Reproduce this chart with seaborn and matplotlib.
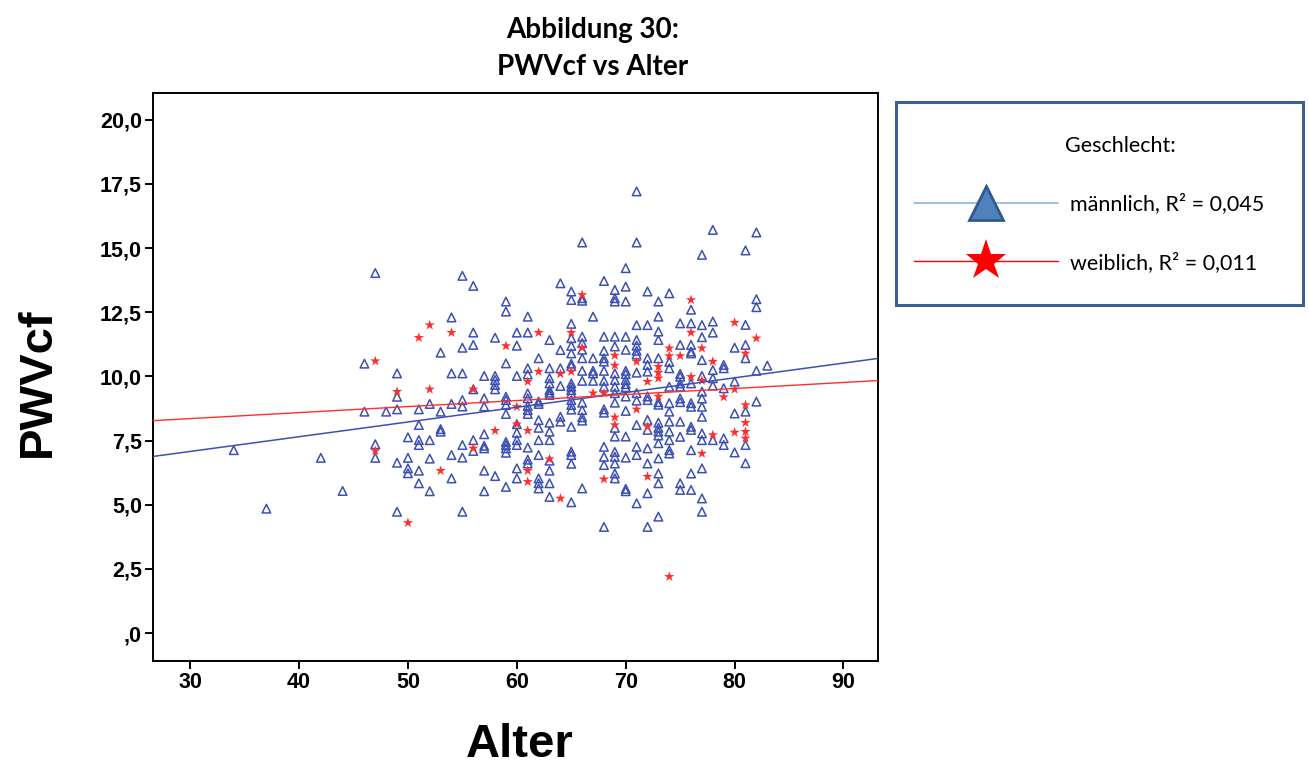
import matplotlib
matplotlib.use("Agg")
import matplotlib.pyplot as plt
import pandas as pd
import seaborn as sns
from matplotlib.lines import Line2D
from matplotlib.patches import Rectangle
from matplotlib.ticker import FuncFormatter

# values: one age, several PWVcf values
male_alter = [34, 37, 42, 44, 46, 47, 48, 49, 50, 51, 52, 53, 54, 55, 56, 57, 58, 59,
              60, 61, 62, 63, 64, 65, 66, 67, 68, 69, 70, 71, 72, 73, 74, 75, 76, 77,
              78, 79, 80, 81, 82, 83]
male_pwv = [
    [7.13],
    [4.85],
    [6.83],
    [5.54],
    [10.5, 8.63],
    [14.03, 7.36, 6.83],
    [8.63],
    [10.12, 9.21, 8.72, 6.64, 4.73],
    [7.63, 6.83, 6.42, 6.23],
    [8.72, 8.11, 7.52, 7.33, 6.33, 5.84],
    [8.93, 7.52, 6.8, 5.53],
    [10.93, 8.63, 7.95, 7.85],
    [12.3, 10.12, 8.93, 6.94, 6.03],
    [13.92, 11.12, 10.12, 9.08, 8.83, 7.33, 6.84, 4.73],
    [13.53, 11.71, 11.23, 9.5, 7.52, 7.1],
    [10.02, 9.15, 8.83, 7.75, 7.3, 7.2, 6.33, 5.53],
    [11.51, 10.02, 9.86, 9.67, 9.5, 6.12],
    [12.92, 12.53, 10.51, 9.21, 9.08, 8.89, 8.54, 7.45, 7.33, 7.2, 7.03, 5.7],
    [11.71, 11.2, 10.02, 8.14, 7.81, 7.52, 7.33, 6.42, 6.03],
    [12.33, 11.71, 10.32, 10.08, 9.34, 9.15, 8.85, 8.69, 8.54, 7.23, 6.76, 6.61],
    [10.71, 9.02, 8.93, 8.3, 8.0, 7.52, 6.94, 6.03, 5.84, 5.64],
    [11.42, 10.32, 9.93, 9.73, 9.47, 9.37, 9.28, 8.2, 7.85, 7.52, 6.72, 6.33, 5.84, 5.31],
    [13.63, 11.03, 10.32, 9.63, 8.43, 8.24],
    [13.31, 12.98, 12.05, 11.49, 11.19, 10.9, 10.5, 10.4, 9.73, 9.6, 9.47, 9.34, 9.08,
     8.89, 8.71, 8.04, 7.07, 6.94, 6.6, 5.1],
    [15.22, 13.05, 12.95, 11.55, 11.3, 11.04, 10.71, 10.22, 9.83, 8.98, 8.69, 8.41, 8.28, 5.64],
    [12.33, 10.71, 10.22, 10.12, 9.83],
    [13.72, 11.55, 11.0, 10.71, 10.58, 10.22, 9.83, 9.6, 8.72, 8.59, 7.26, 6.87, 6.55, 4.14],
    [13.37, 13.05, 12.92, 11.55, 11.17, 10.12, 9.86, 9.6, 9.35, 8.98, 8.0, 7.66, 7.06,
     6.87, 6.61, 6.22, 6.03],
    [14.22, 13.5, 12.92, 11.55, 11.04, 10.22, 10.09, 9.86, 9.7, 9.58, 9.22, 8.66, 7.66,
     6.84, 5.62, 5.53],
    [17.21, 15.22, 12.0, 11.42, 11.2, 11.0, 10.85, 10.15, 9.35, 9.06, 8.11, 7.26, 6.94, 5.06],
    [13.31, 12.0, 10.71, 10.45, 10.19, 9.22, 9.08, 8.31, 7.92, 7.2, 6.61, 5.45, 4.14],
    [12.92, 12.33, 11.75, 11.42, 10.71, 9.0, 8.9, 8.2, 8.0, 7.85, 7.7, 7.4, 6.81, 6.22,
     5.84, 4.54],
    [13.24, 10.57, 10.32, 9.6, 8.96, 8.63, 8.24, 7.85, 7.52, 7.13, 7.0],
    [12.07, 11.23, 10.1, 9.99, 9.73, 9.6, 9.14, 9.0, 8.24, 7.65, 5.84, 5.58],
    [12.6, 12.07, 11.23, 10.97, 10.9, 9.73, 8.96, 8.82, 8.04, 7.92, 7.13, 6.22, 5.58],
    [14.74, 12.0, 11.53, 10.64, 10.02, 9.41, 9.14, 8.82, 8.43, 7.78, 7.52, 6.42, 5.25, 4.73],
    [15.71, 12.14, 11.71, 10.25, 9.93, 9.64, 7.52],
    [10.45, 10.32, 9.54, 7.59, 7.33],
    [11.12, 9.8, 8.56, 7.04],
    [14.91, 12.01, 11.23, 10.71, 8.63, 7.33, 6.62],
    [15.61, 13.01, 12.7, 10.22, 9.02],
    [10.42],
]

female_alter = [47, 49, 50, 51, 52, 53, 54, 56, 58, 59, 60, 61, 62, 63, 64, 65, 66, 67,
                68, 69, 71, 72, 73, 74, 75, 76, 77, 78, 79, 80, 81, 82]
female_pwv = [
    [10.6, 7.1],
    [9.41],
    [4.3],
    [11.51],
    [12.0, 9.5],
    [6.33],
    [11.71],
    [9.5, 7.2],
    [7.89],
    [11.19],
    [8.82, 8.14],
    [9.8, 7.89, 6.33, 5.9],
    [11.71, 10.19],
    [6.78],
    [10.1, 5.25],
    [11.71, 10.19],
    [13.18, 11.12],
    [9.35],
    [9.35, 6.0],
    [10.82, 10.43, 8.41, 8.11],
    [10.58, 8.72],
    [9.8, 8.04, 6.1],
    [10.38, 10.15, 9.93, 9.22],
    [11.1, 10.8, 2.2],
    [10.8],
    [12.98, 11.71, 9.99],
    [11.1, 9.84, 7.0],
    [10.58, 7.72],
    [9.2],
    [12.1, 9.5, 7.82],
    [10.9, 8.89, 8.2, 7.85, 7.59],
    [11.49],
]

legend_labels = ["männlich, R² = 0,045", "weiblich, R² = 0,011"]
x_ticks = [30, 40, 50, 60, 70, 80, 90]
y_ticks = [0, 2.5, 5, 7.5, 10, 12.5, 15, 17.5, 20]


def to_frame(ages, values):
    rows = [(a, v) for a, vs in zip(ages, values) for v in vs]
    return pd.DataFrame(rows, columns=["Alter", "PWVcf"])


df_m = to_frame(male_alter, male_pwv)
df_w = to_frame(female_alter, female_pwv)

blue = "#3C50B4"
red = "#FF2F2F"

sns.set_style("white")
plt.rcParams["font.family"] = ["Liberation Sans", "DejaVu Sans"]
plt.rcParams["text.color"] = "black"
plt.rcParams["axes.labelcolor"] = "black"
plt.rcParams["xtick.color"] = "black"
plt.rcParams["ytick.color"] = "black"

fig = plt.figure(figsize=(13.09, 7.67), dpi=100)
ax = fig.add_axes([0.117, 0.138, 0.554, 0.741])
ax.set_xlim(26.6, 93.2)
ax.set_ylim(-1.09, 21.05)

sns.scatterplot(data=df_m, x="Alter", y="PWVcf", ax=ax, marker="^", s=38,
                facecolor="none", edgecolor=blue, linewidth=1.1, zorder=2)
sns.scatterplot(data=df_w, x="Alter", y="PWVcf", ax=ax, marker="*", s=60,
                color=red, edgecolor="none", linewidth=0, zorder=3)

# fit lines across the whole x range
sns.regplot(data=df_m, x="Alter", y="PWVcf", ax=ax, scatter=False, ci=None,
            truncate=False, line_kws={"color": blue, "lw": 1.1, "zorder": 4})
sns.regplot(data=df_w, x="Alter", y="PWVcf", ax=ax, scatter=False, ci=None,
            truncate=False, line_kws={"color": red, "lw": 1.0, "zorder": 4})
ax.set_xlim(26.6, 93.2)
ax.set_ylim(-1.09, 21.05)

ax.set_xticks(x_ticks)
ax.set_yticks(y_ticks)


def comma_fmt(v, pos):
    s = f"{v:.1f}".replace(".", ",")
    return s[1:] if s.startswith("0,") else s


ax.yaxis.set_major_formatter(FuncFormatter(comma_fmt))
ax.tick_params(axis="both", which="major", bottom=True, left=True, direction="out",
               length=6, width=1.4, color="black", labelcolor="black",
               labelsize=15.5, pad=2)
for lab in ax.get_xticklabels() + ax.get_yticklabels():
    lab.set_fontweight("bold")
for sp in ax.spines.values():
    sp.set_visible(True)
    sp.set_color("black")
    sp.set_linewidth(1.4)

ax.set_xlabel("Alter", fontsize=34, fontweight="bold", color="black")
ax.set_ylabel("PWVcf", fontsize=34, fontweight="bold", color="black")
ax.xaxis.set_label_coords(0.505, -0.108)
ax.yaxis.set_label_coords(-0.128, 0.49)

fig.text(593 / 1309, 1 - 30 / 767, "Abbildung 30:", ha="center", va="center",
         fontsize=20, fontweight="bold", family=["Lato", "DejaVu Sans"])
fig.text(593 / 1309, 1 - 67 / 767, "PWVcf vs Alter", ha="center", va="center",
         fontsize=20, fontweight="bold", family=["Lato", "DejaVu Sans"])

# legend box drawn by hand like the SPSS output
fig.patches.append(Rectangle((896 / 1309, 1 - 305 / 767), 407 / 1309, 203 / 767,
                             transform=fig.transFigure, fill=False,
                             edgecolor="#3F5F95", lw=2.2))
fig.text(1065 / 1309, 1 - 146 / 767, "Geschlecht:", ha="left", va="center",
         fontsize=15.5, family=["Lato", "DejaVu Sans"])
handles = [
    Line2D([], [], color="#8DB3E2", lw=1.2, marker="^", markersize=24,
           markerfacecolor="#4F81BD", markeredgecolor="#2F5A8C", markeredgewidth=2),
    Line2D([], [], color="#FF0000", lw=1.0, marker="*", markersize=31,
           markerfacecolor="#FF0000", markeredgecolor="#FF0000", markeredgewidth=0),
]
fig.legend(handles, legend_labels, loc="center left",
           bbox_to_anchor=(903 / 1309, 1 - 233 / 767), frameon=False, borderpad=0,
           handlelength=6.7, handletextpad=0.55, labelspacing=1.75, numpoints=1,
           prop={"family": ["Lato", "DejaVu Sans"], "size": 15.5})

fig.savefig("out.png", dpi=100, facecolor="white")
